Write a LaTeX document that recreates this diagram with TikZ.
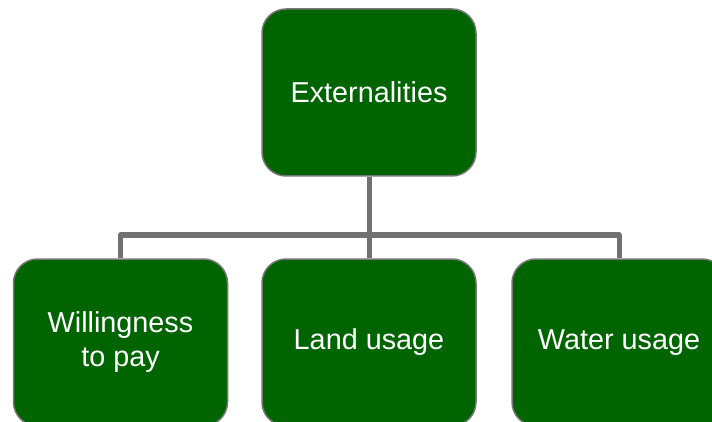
\documentclass[tikz,border=0pt]{standalone}
\usepackage{fontspec}
\setmainfont{Liberation Sans}
\definecolor{boxgreen}{HTML}{006400}
\definecolor{boxedge}{HTML}{767676}
\definecolor{linkgray}{HTML}{717171}

\begin{document}
\begin{tikzpicture}[
        x = 1pt, y = -1pt,
        line join=round,
        topic/.style = {draw=boxedge, line width=1.5pt, fill=boxgreen, rounded corners=24pt,
                        minimum width=214pt, minimum height=167pt, text=white, align=center,
                        font=\fontsize{28.8}{34}\selectfont},
        link/.style = {draw=linkgray, line width=5pt}
    ]

    \useasboundingbox (0, 0) rectangle (712, 422);
    \clip (0, 0) rectangle (712, 422);

    \coordinate (bar) at (369, 235);

    \node[topic] (ext)   at (369, 92.5)    {Externalities};
    \node[topic] (will)  at (120.5, 342.5) {Willingness\\to pay};
    \node[topic] (land)  at (369, 342.5)   {Land usage};
    \node[topic] (water) at (619, 342.5)   {Water usage};

    \draw[link] (ext.south) -- (bar);
    \draw[link] (land.north) -- (bar);
    \draw[link] (will.north) |- (bar);
    \draw[link] (water.north) |- (bar);

\end{tikzpicture}
\end{document}
